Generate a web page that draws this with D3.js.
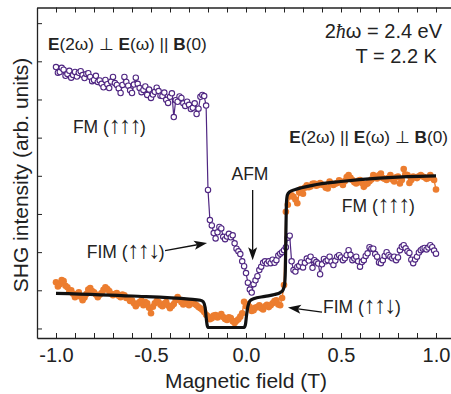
<!DOCTYPE html>
<html>
<head>
<meta charset="utf-8">
<script src="https://cdn.jsdelivr.net/npm/d3@7"></script>
<style>
  html, body { margin: 0; padding: 0; background: #fff; }
  svg { display: block; font-family: "Liberation Sans", Arial, Helvetica, sans-serif; }
</style>
</head>
<body>
<script>
// Magnetic field sweep (T), 0.01 T steps, shared by both polarisation geometries
const field = d3.range(-100, 101, 1).map(d => d / 100);

// E(2ω) ⊥ E(ω) ∥ B(0): open violet circles
const shgPerp = [
  68.5, 67.0, 67.2, 68.3, 67.8, 66.2, 66.7, 67.5, 65.7, 66.4,
  67.2, 66.0, 67.0, 67.4, 66.4, 65.6, 66.7, 66.9, 65.9, 64.8,
  65.1, 66.2, 64.6, 65.0, 64.1, 63.2, 65.1, 64.0, 63.0, 64.7,
  65.9, 64.3, 63.8, 62.9, 61.7, 63.8, 65.9, 64.6, 63.6, 62.4,
  61.7, 63.9, 65.7, 64.1, 63.0, 61.9, 62.5, 63.4, 61.2, 62.6,
  60.4, 61.3, 62.0, 63.1, 62.2, 61.0, 60.9, 61.8, 59.9, 59.1,
  60.7, 61.6, 55.4, 59.8, 59.4, 60.8, 60.4, 59.0, 58.3, 59.4,
  58.6, 57.5, 57.8, 59.0, 56.2, 57.6, 60.7, 61.2, 60.9, 58.4,
  36.3, 28.4, 27.0, 25.0, 23.6, 25.2, 26.6, 26.2, 24.0, 23.4,
  24.1, 24.8, 23.9, 24.4, 22.3, 20.9, 20.2, 19.5, 17.6, 16.3,
  14.5, 12.0, 10.2, 9.4, 11.6, 12.6, 13.7, 15.3, 16.2, 17.2,
  17.6, 17.0, 17.6, 17.1, 18.0, 17.2, 17.9, 19.1, 19.6, 20.0,
  20.5, 21.3, 23.8, 24.3, 17.6, 15.3, 14.9, 16.1, 16.4, 17.3,
  16.0, 17.2, 18.3, 17.8, 18.8, 15.9, 17.9, 17.4, 17.0, 14.2,
  16.8, 18.2, 17.6, 17.9, 18.8, 17.5, 16.6, 17.8, 18.8, 19.2,
  18.6, 17.9, 18.4, 19.2, 20.5, 19.3, 17.9, 18.3, 18.8, 17.6,
  16.2, 17.4, 17.9, 19.0, 19.7, 21.3, 20.9, 20.9, 19.5, 18.8,
  17.3, 17.1, 17.9, 19.0, 20.0, 19.2, 18.8, 18.4, 18.8, 17.9,
  18.6, 20.5, 21.4, 21.8, 21.0, 20.2, 19.8, 18.0, 17.1, 18.1,
  18.8, 19.9, 20.5, 20.9, 21.1, 20.7, 21.2, 21.8, 21.3, 20.4,
  19.6
];

// E(2ω) ∥ E(ω) ⊥ B(0): filled orange dots
const shgPar = [
  12.1, 11.0, 11.6, 12.7, 12.4, 11.2, 10.8, 9.6, 10.0, 9.1,
  8.2, 9.0, 9.5, 8.3, 7.4, 8.1, 9.0, 10.2, 10.6, 9.8,
  9.5, 8.9, 8.2, 8.8, 9.3, 10.1, 10.8, 10.3, 9.8, 9.1,
  8.7, 9.0, 9.3, 8.6, 8.2, 8.9, 8.7, 8.0, 7.9, 7.2,
  7.4, 6.6, 5.8, 6.5, 6.9, 7.3, 6.1, 6.9, 6.6, 5.4,
  4.0, 5.7, 6.6, 7.2, 6.9, 6.2, 5.8, 6.5, 6.9, 6.0,
  5.3, 5.9, 6.4, 7.4, 8.2, 7.6, 6.9, 6.3, 6.6, 7.0,
  6.1, 6.6, 6.9, 6.4, 6.1, 5.6, 5.3, 4.9, 4.3, 3.6,
  3.2, 2.4, 2.7, 3.4, 3.5, 2.9, 3.2, 3.8, 3.0, 2.5,
  2.2, 2.9, 2.7, 1.9, 1.4, 2.0, 2.4, 3.1, 4.0, 7.0,
  5.8, 6.3, 5.6, 4.6, 4.8, 5.5, 5.6, 6.1, 5.3, 5.0,
  5.8, 6.2, 5.6, 6.1, 6.6, 7.2, 7.4, 6.3, 6.1, 8.0,
  11.4, 30.6, 32.4, 34.6, 34.9, 34.5, 33.8, 32.8, 35.6, 36.5,
  35.3, 36.9, 37.5, 37.0, 37.2, 37.9, 38.0, 37.4, 37.6, 38.1,
  37.7, 37.5, 36.9, 36.7, 38.5, 38.0, 37.6, 37.9, 38.1, 38.8,
  38.3, 37.6, 38.6, 39.7, 40.2, 39.5, 38.9, 38.3, 38.0, 38.7,
  38.9, 38.1, 37.1, 37.7, 38.0, 38.6, 39.0, 40.2, 39.6, 39.3,
  40.1, 40.6, 39.4, 39.2, 38.9, 39.5, 40.2, 39.0, 38.5, 39.6,
  39.8, 38.0, 38.9, 41.8, 40.3, 40.2, 38.1, 38.9, 39.8, 39.6,
  39.4, 39.9, 40.2, 39.8, 39.6, 39.2, 39.4, 40.2, 39.5, 38.9,
  36.4
];

// Calculated response for the parallel geometry (black curve)
const fitField = [-1.0, -0.6, -0.3, -0.24, -0.225, -0.215, -0.21, -0.205, -0.2, -0.19,
  -0.01, -0.003, 0.003, 0.01, 0.02, 0.04, 0.1, 0.15, 0.18, 0.195,
  0.203, 0.207, 0.21, 0.213, 0.218, 0.23, 0.26, 0.35, 0.5, 0.7, 0.85, 1.0];
const fitValue = [9.2, 8.5, 7.7, 7.4, 7.0, 5.5, 3.0, 1.0, 0.3, 0.25,
  0.25, 1.0, 3.5, 5.8, 7.2, 7.8, 8.4, 8.9, 9.4, 10.1,
  11.5, 15, 25, 33, 35, 35.8, 36.4, 37.5, 38.5, 39.4, 39.8, 40.0];

// Axis ticks
const xMinorTicks = d3.range(-11, 12).map(d => d / 10);
const xLabelTicks = [-1.0, -0.5, 0.0, 0.5, 1.0];
const yTicks = d3.range(0, 81, 10);

const W = 451, H = 394;
const purple = "#4f2682", orange = "#ec7d2f";

const svg = d3.select("body").append("svg").attr("width", W).attr("height", H);

const x = d3.scaleLinear().domain([-1.1, 1.1]).range([37, 455]);
const y = d3.scaleLinear().domain([-2.5, 84.1]).range([338, 7.5]);

// ---- frame and ticks ----
function styleAxis(g) {
  g.select(".domain").attr("stroke", "#222").attr("stroke-width", 1.3);
  g.selectAll(".tick line").attr("stroke", "#222").attr("stroke-width", 1);
}
svg.append("g").attr("transform", "translate(0,338)")
  .call(d3.axisBottom(x).tickValues(xMinorTicks).tickSize(-5).tickSizeOuter(0).tickFormat(""))
  .call(styleAxis);
svg.append("g").attr("transform", "translate(0,7.5)")
  .call(d3.axisTop(x).tickValues(xMinorTicks).tickSize(-5).tickSizeOuter(0).tickFormat(""))
  .call(styleAxis);
svg.append("g").attr("transform", "translate(37,0)")
  .call(d3.axisLeft(y).tickValues(yTicks).tickSize(-5).tickSizeOuter(0).tickFormat(""))
  .call(styleAxis);

const xLab = svg.append("g").attr("transform", "translate(0,338)")
  .call(d3.axisBottom(x).tickValues(xLabelTicks).tickSize(0).tickPadding(10)
    .tickFormat(d => d.toFixed(1)));
xLab.select(".domain").remove();
xLab.selectAll("text").attr("font-size", 20).attr("fill", "#222")
  .attr("font-family", "Liberation Sans, Arial, sans-serif");

svg.append("text").attr("x", x(0)).attr("y", 388).attr("text-anchor", "middle")
  .attr("font-size", 21).attr("fill", "#222").text("Magnetic field (T)");
svg.append("text").attr("transform", "translate(28,175) rotate(-90)")
  .attr("text-anchor", "middle").attr("font-size", 21).attr("fill", "#222")
  .text("SHG intensity (arb. units)");

// ---- data ----
const perpPts = field.map((f, i) => [f, shgPerp[i]]);
const parPts = field.map((f, i) => [f, shgPar[i]]);
const fitPts = fitField.map((f, i) => [f, fitValue[i]]);
const line = d3.line().x(d => x(d[0])).y(d => y(d[1]));

// parallel geometry: orange filled dots
svg.append("path").datum(parPts).attr("d", line)
  .attr("fill", "none").attr("stroke", orange).attr("stroke-width", 1.4);
svg.append("g").selectAll("circle").data(parPts).join("circle")
  .attr("cx", d => x(d[0])).attr("cy", d => y(d[1])).attr("r", 3.3)
  .attr("fill", orange);

// perpendicular geometry: violet open circles joined by a line
svg.append("path").datum(perpPts).attr("d", line)
  .attr("fill", "none").attr("stroke", purple).attr("stroke-width", 1.2);
svg.append("g").selectAll("circle").data(perpPts).join("circle")
  .attr("cx", d => x(d[0])).attr("cy", d => y(d[1])).attr("r", 2.7)
  .attr("fill", "#fff").attr("stroke", purple).attr("stroke-width", 1.1);

// calculated curve
svg.append("path").datum(fitPts).attr("d", line.curve(d3.curveMonotoneX))
  .attr("fill", "none").attr("stroke", "#111").attr("stroke-width", 3.2)
  .attr("stroke-linejoin", "round");

// ---- annotations ----
const ink = "#222";
function label(fx, fy, anchor, size) {
  return svg.append("text").attr("x", x(fx)).attr("y", y(fy))
    .attr("text-anchor", anchor).attr("font-size", size).attr("fill", ink);
}
function polarisation(t, parts) {
  parts.forEach(p => {
    const s = t.append("tspan").text(p[0]);
    if (p[1]) s.attr("font-weight", "bold");
  });
}
// spin configuration label, e.g. "FM (↑↑↑)"
function spins(fx, fy, phase, arrows) {
  const t = label(fx, fy, "start", 17.5);
  t.append("tspan").text(phase + " (");
  t.append("tspan").attr("font-size", 24).attr("letter-spacing", -1.6).text(arrows);
  t.append("tspan").text(")");
  return t;
}

polarisation(label(-1.042, 73.0, "start", 17.2),
  [["E", 1], ["(2ω) ⊥ ", 0], ["E", 1], ["(ω) || ", 0], ["B", 1], ["(0)", 0]]);
polarisation(label(0.228, 48.5, "start", 17.2),
  [["E", 1], ["(2ω) || ", 0], ["E", 1], ["(ω) ⊥ ", 0], ["B", 1], ["(0)", 0]]);

const hw = label(1.032, 76.1, "end", 20);
hw.append("tspan").text("2");
hw.append("tspan").attr("font-family", "Liberation Serif, serif").attr("font-style", "italic").text("ħ");
hw.append("tspan").text("ω = 2.4 eV");
label(1.005, 69.6, "end", 20).text("T = 2.2 K");

spins(-0.911, 51.1, "FM", "↑↑↑");
spins(0.504, 30.6, "FM", "↑↑↑");
spins(-0.838, 18.5, "FIM", "↑↑↓");
spins(0.405, 4.0, "FIM", "↑↑↓");
label(0.021, 38.9, "middle", 17.5).text("AFM");

// pointer arrows: [tail field, tail value, tip field, tip value]
const arrows = [
  [0.035, 36.3, 0.035, 17.9],
  [-0.426, 20.4, -0.205, 22.4],
  [0.400, 4.3, 0.221, 5.5]
];
arrows.forEach(a => {
  const x0 = x(a[0]), y0 = y(a[1]), x1 = x(a[2]), y1 = y(a[3]);
  const len = Math.hypot(x1 - x0, y1 - y0);
  const ux = (x1 - x0) / len, uy = (y1 - y0) / len, nx = -uy, ny = ux;
  const L = 13, w = 4.5, notch = 3;
  svg.append("line").attr("x1", x0).attr("y1", y0)
    .attr("x2", x1 - (L - notch) * ux).attr("y2", y1 - (L - notch) * uy)
    .attr("stroke", "#111").attr("stroke-width", 1.3);
  const pts = [
    [x1, y1],
    [x1 - L * ux + w * nx, y1 - L * uy + w * ny],
    [x1 - (L - notch) * ux, y1 - (L - notch) * uy],
    [x1 - L * ux - w * nx, y1 - L * uy - w * ny]
  ];
  svg.append("path").attr("d", "M" + pts.map(p => p.join(",")).join("L") + "Z").attr("fill", "#111");
});
</script>
</body>
</html>
